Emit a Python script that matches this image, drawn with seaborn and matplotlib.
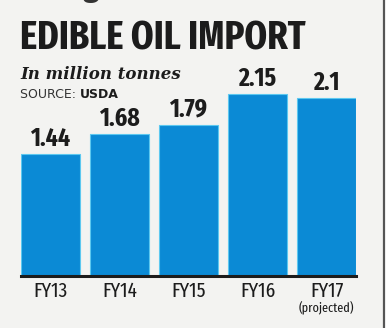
import matplotlib
matplotlib.use("Agg")
import matplotlib.pyplot as plt
import seaborn as sns
import pandas as pd

categories = ["FY13", "FY14", "FY15", "FY16", "FY17"]
values = [1.44, 1.68, 1.79, 2.15, 2.1]
value_labels = ["1.44", "1.68", "1.79", "2.15", "2.1"]
title = "EDIBLE OIL IMPORT"
subtitle = "In million tonnes"
source_label = "SOURCE: "
source_name = "USDA"
note = "(projected)"

sns.set_theme(style="white")
bg = "#f3f3f1"
bar_color = "#0b8ad5"
ink = "#1c1c1c"
COND = ["Fira Sans Extra Condensed", "Roboto Condensed", "DejaVu Sans"]
SANS = ["DejaVu Sans"]

df = pd.DataFrame({"cat": categories, "val": values})
fig = plt.figure(figsize=(3.88, 3.28), dpi=100, facecolor=bg)
ax = fig.add_axes([21/388, 52/328, 335/388, 186/328])
ax.set_facecolor(bg)
sns.barplot(data=df, x="cat", y="val", color=bar_color, width=0.855, saturation=1,
            edgecolor="#5cc8f0", linewidth=0.8, ax=ax)
ax.set_xlim(-0.425, 4.425)
ax.set_ylim(0, 2.2)
ax.set_xlabel("")
ax.set_ylabel("")
ax.set_yticks([])
for s in ["top", "left", "right"]:
    ax.spines[s].set_visible(False)
ax.spines["bottom"].set_color(ink)
ax.spines["bottom"].set_linewidth(2.2)
ax.bar_label(ax.containers[0], labels=value_labels, padding=2,
             fontsize=18.5, fontweight="bold", color=ink, family=COND)
ax.tick_params(axis="x", length=0, pad=4)
ax.set_xticks(range(len(categories)))
ax.set_xticklabels(categories, fontsize=15, color=ink, family=COND)
ax.annotate(note, xy=(4, 0), xycoords="data", xytext=(0, -18.5), textcoords="offset points",
            ha="center", va="top", fontsize=9.5, color=ink, family=COND, annotation_clip=False)

fig.text(20/388, 1 - 50/328, title, fontsize=28.5, fontweight="bold", color=ink,
         ha="left", va="baseline", family=COND)
fig.text(20/388, 1 - 79/328, subtitle, fontsize=12, fontweight="bold", style="italic",
         family=["DejaVu Serif"], color=ink, ha="left", va="baseline")
t1 = fig.text(20/388, 1 - 98/328, source_label, fontsize=9, color="#333333",
              ha="left", va="baseline", family=SANS)
ax.annotate(source_name, xy=(1, 0), xycoords=t1, xytext=(0, 0), textcoords="offset points",
            ha="left", va="bottom", fontsize=9, fontweight="bold", color=ink, family=SANS,
            annotation_clip=False)
# partially visible glyph of the headline above the chart
fig.text(83/388, 1 + 5/328, "g", fontsize=26, fontweight="bold", color="#333333",
         ha="left", va="baseline", family=COND)
fig.add_artist(plt.Rectangle((385/388, 0), 3/388, 1, color="white", transform=fig.transFigure))
fig.add_artist(plt.Line2D([384/388, 384/388], [0, 1], color="#555555", lw=1.6,
                          transform=fig.transFigure))
fig.savefig("out.png", dpi=100, facecolor=bg)
